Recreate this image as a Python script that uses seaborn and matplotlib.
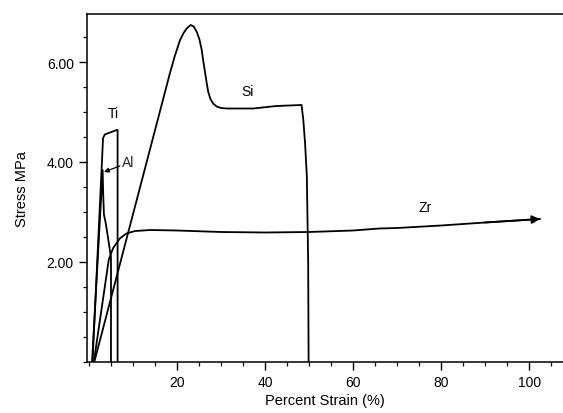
import matplotlib
matplotlib.use("Agg")
import matplotlib.pyplot as plt
from matplotlib.ticker import MultipleLocator, FixedLocator
import seaborn as sns
import numpy as np

# ---- data (percent strain, stress MPa) ----
ti_strain = [0.8, 3.2, 3.6, 6.3, 6.5, 6.5]
ti_stress = [0.0, 4.48, 4.55, 4.64, 4.64, 0.0]

al_strain = [0.7, 3.1, 3.25, 3.4, 3.8, 4.3, 4.8, 5.0, 5.0]
al_stress = [0.0, 3.84, 3.3, 2.95, 2.78, 2.5, 2.2, 2.1, 0.0]

si_strain = [1.2, 16.8, 18.4, 19.5, 20.7, 21.5, 22.2, 23.1, 23.8, 24.5, 25.1,
             25.6, 26.0, 26.4, 26.8, 27.1, 27.6, 28.2, 29.0, 30.0, 31.3, 37.3,
             42.6, 48.3, 48.7, 49.1, 49.5, 49.8, 49.9]
si_stress = [0.0, 5.24, 5.78, 6.12, 6.44, 6.58, 6.67, 6.74, 6.71, 6.60, 6.45,
             6.25, 6.00, 5.78, 5.55, 5.40, 5.26, 5.17, 5.11, 5.08, 5.07, 5.07,
             5.12, 5.14, 4.84, 4.37, 3.71, 2.0, 0.0]

zr_strain = [1.1, 4.5, 5.5, 7.0, 8.5, 10.5, 14.0, 20.0, 30.0, 40.0, 50.0,
             60.0, 66.0, 70.0, 80.0, 90.0, 102.5]
zr_stress = [0.0, 2.05, 2.28, 2.47, 2.57, 2.62, 2.64, 2.63, 2.60, 2.59, 2.60,
             2.63, 2.67, 2.68, 2.73, 2.79, 2.86]

x_ticks = [20, 40, 60, 80, 100]
y_ticks = [2.0, 4.0, 6.0]
y_ticklabels = ["2.00", "4.00", "6.00"]

labels = {"Ti": (5.5, 4.98), "Si": (36.1, 5.41), "Zr": (76.4, 3.1)}
al_label = (8.8, 4.0)
al_arrow_tip = (3.4, 3.8)
al_arrow_tail = (7.0, 3.92)

# ---- figure ----
sns.set_theme(style="ticks")
plt.rcParams['font.family'] = ['Liberation Sans', 'DejaVu Sans']

fig = plt.figure(figsize=(5.63, 4.14), dpi=100)
ax = fig.add_axes([87 / 563, (414 - 363) / 414, 1 - 87 / 563, (363 - 15) / 414])

lw = 1.3
for xs, ys in [(ti_strain, ti_stress), (al_strain, al_stress),
               (si_strain, si_stress), (zr_strain, zr_stress)]:
    sns.lineplot(x=xs, y=ys, sort=False, estimator=None, color="black",
                 linewidth=lw, ax=ax)

# arrow head at end of Zr curve
ax.annotate("", xy=(zr_strain[-1], zr_stress[-1]),
            xytext=(zr_strain[-2], zr_stress[-2]),
            arrowprops=dict(arrowstyle="-|>", color="black", lw=lw,
                            mutation_scale=12, shrinkA=0, shrinkB=0))

for name, (lx, ly) in labels.items():
    ax.text(lx, ly, name, fontsize=10, ha="center", va="center", color="black")
ax.text(al_label[0], al_label[1], "Al", fontsize=10, ha="center", va="center")
ax.annotate("", xy=al_arrow_tip, xytext=al_arrow_tail,
            arrowprops=dict(arrowstyle="-|>", color="black", lw=0.9,
                            mutation_scale=7, shrinkA=0, shrinkB=0))

ax.set_xlim(-0.45, 107.7)
ax.set_ylim(0, 6.96)

ax.xaxis.set_major_locator(FixedLocator(x_ticks))
ax.xaxis.set_minor_locator(MultipleLocator(5))
ax.yaxis.set_major_locator(FixedLocator(y_ticks))
ax.yaxis.set_minor_locator(MultipleLocator(0.5))
ax.set_yticklabels(y_ticklabels)

ax.tick_params(axis="both", which="major", direction="out", length=6,
               width=1.0, color="black", labelsize=10, labelcolor="black")
ax.tick_params(axis="both", which="minor", direction="out", length=3,
               width=0.9, color="black")

for side in ["left", "bottom", "top"]:
    ax.spines[side].set_visible(True)
    ax.spines[side].set_color("black")
    ax.spines[side].set_linewidth(1.1)
ax.spines["right"].set_visible(False)

ax.set_xlabel("Percent Strain (%)", fontsize=10.5, color="black", labelpad=3)
ax.set_ylabel("Stress MPa", fontsize=10.5, color="black", labelpad=13)

fig.savefig("out.png", dpi=100)
